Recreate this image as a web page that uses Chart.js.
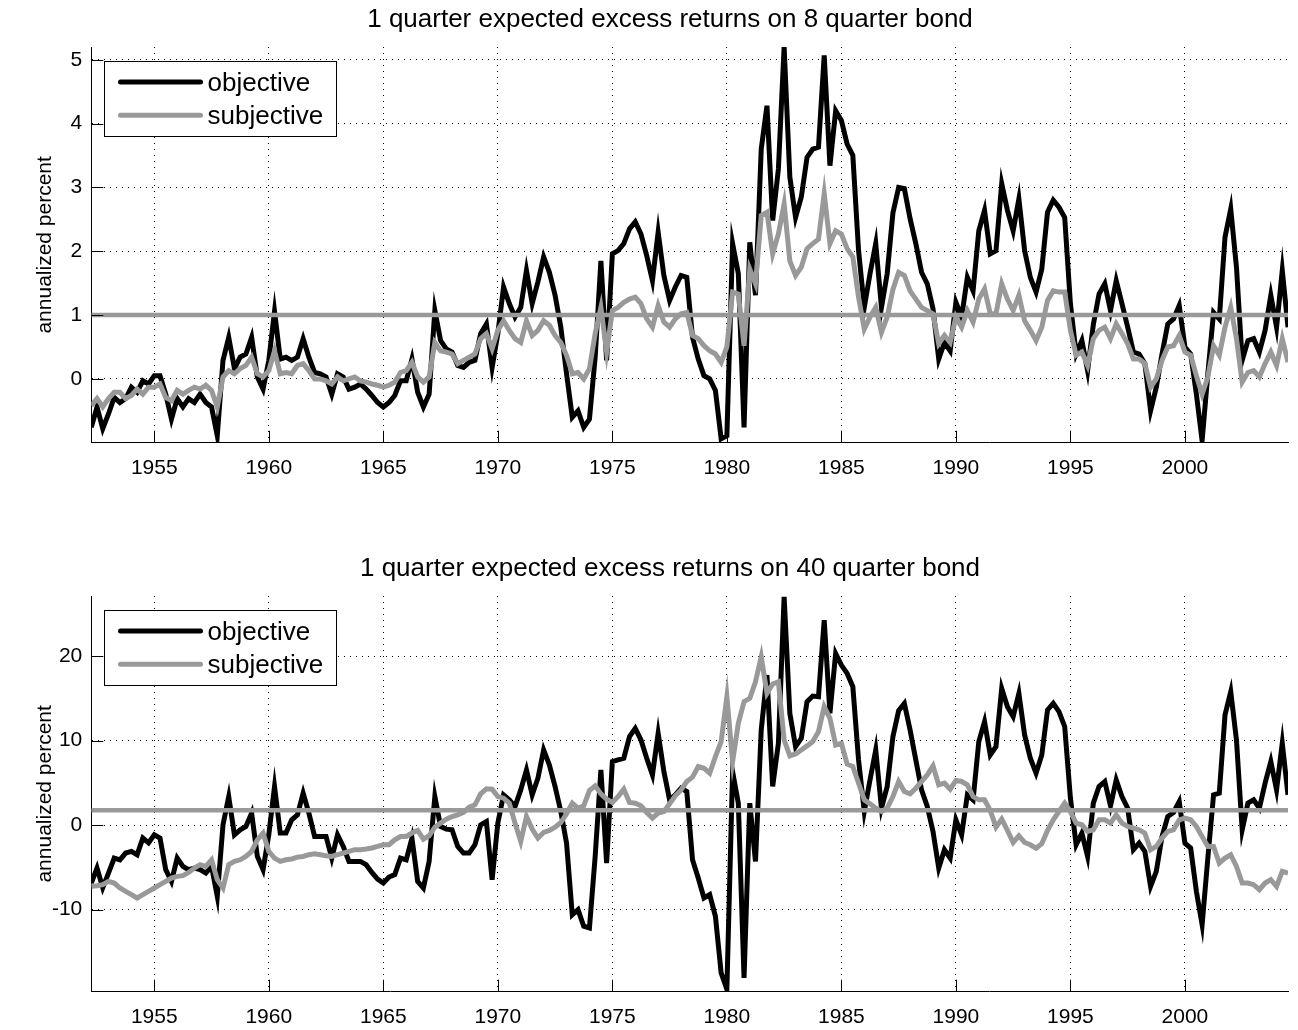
<!DOCTYPE html>
<html><head><meta charset="utf-8">
<script src="https://cdn.jsdelivr.net/npm/chart.js@4.4.1/dist/chart.umd.min.js"></script>
<style>
html,body{margin:0;padding:0;background:#fff;width:1298px;height:1030px;overflow:hidden}
.wrap{position:absolute;left:0;width:1298px}
#w1{top:0;height:549px}
#w2{top:549px;height:481px}
canvas{display:block}
</style></head><body>
<div class="wrap" id="w1"><canvas id="c1" width="1298" height="549"></canvas></div>
<div class="wrap" id="w2"><canvas id="c2" width="1298" height="481"></canvas></div>
<script>
// ---- data (quarterly, 1952.25 .. 2004.5) ----
const firstQuarter = 1952.25;
const lastQuarter = 2004.5;
const xTickYears = [1955, 1960, 1965, 1970, 1975, 1980, 1985, 1990, 1995, 2000];
const yTicks8 = [0, 1, 2, 3, 4, 5];
const yTicks40 = [-10, 0, 10, 20];
const title8 = '1 quarter expected excess returns on 8 quarter bond';
const title40 = '1 quarter expected excess returns on 40 quarter bond';
const seriesNames = ['objective', 'subjective'];
const level8 = 1.0;
const level40 = 1.75;

const objective8 = [
 -0.76,-0.44,-0.78,-0.55,-0.29,-0.37,-0.31,-0.13,-0.21,-0.03,
 -0.08, 0.05, 0.05,-0.24,-0.63,-0.31,-0.44,-0.31,-0.37,-0.24,
 -0.37,-0.44,-0.89, 0.29, 0.65, 0.16, 0.34, 0.39, 0.65, 0.03,
 -0.16, 0.29, 1.06, 0.31, 0.34, 0.29, 0.34, 0.63, 0.34, 0.10,
  0.08, 0.03,-0.24, 0.08, 0.03,-0.16,-0.13,-0.08,-0.16,-0.26,
 -0.37,-0.44,-0.37,-0.26,-0.03,-0.03, 0.31,-0.21,-0.44,-0.24,
  1.07, 0.60, 0.47, 0.42, 0.21, 0.18, 0.26, 0.29, 0.71, 0.86,
  0.18, 0.71, 1.44, 1.18, 0.97, 1.12, 1.70, 1.18, 1.52, 1.91,
  1.67, 1.31, 0.81, 0.08,-0.60,-0.50,-0.76,-0.63, 0.34, 1.85,
  0.29, 1.96, 2.01, 2.12, 2.35, 2.46, 2.27, 1.93, 1.54, 2.30,
  1.62, 1.23, 1.44, 1.62, 1.59, 0.65, 0.31, 0.05, 0.00,-0.18,
 -0.94,-0.89, 2.12, 1.65,-0.76, 2.14, 1.31, 3.60, 4.28, 2.48,
  3.29, 5.20, 3.16, 2.53, 2.85, 3.47, 3.60, 3.63, 5.07, 3.34,
  4.20, 4.05, 3.68, 3.50, 2.01, 1.12, 1.65, 2.12, 1.12, 1.65,
  2.60, 3.00, 2.98, 2.51, 2.12, 1.67, 1.49, 1.10, 0.31, 0.57,
  0.44, 1.20, 0.97, 1.59, 1.38, 2.32, 2.64, 1.96, 2.01, 3.06,
  2.64, 2.32, 2.82, 2.01, 1.59, 1.36, 1.72, 2.61, 2.80, 2.69,
  2.53, 1.18, 0.39, 0.60, 0.13, 0.85, 1.33, 1.49, 1.07, 1.54,
  1.18, 0.81, 0.42, 0.39, 0.24,-0.50,-0.13, 0.39, 0.86, 0.94,
  1.15, 0.50, 0.39,-0.24,-0.97, 0.08, 1.04, 0.94, 2.22, 2.66,
  1.75, 0.29, 0.60, 0.63, 0.42, 0.76, 1.31, 0.81, 1.70, 0.81
];
const subjective8 = [
 -0.42,-0.31,-0.44,-0.31,-0.21,-0.21,-0.31,-0.26,-0.16,-0.24,
 -0.13,-0.13,-0.08,-0.29,-0.34,-0.18,-0.24,-0.18,-0.13,-0.16,
 -0.10,-0.18,-0.44, 0.03, 0.13, 0.08, 0.16, 0.21, 0.34, 0.08,
  0.03, 0.13, 0.44, 0.08, 0.10, 0.08, 0.21, 0.24, 0.13, 0.00,
  0.00,-0.03,-0.08, 0.03,-0.03, 0.00, 0.03,-0.03,-0.05,-0.08,
 -0.10,-0.13,-0.10,-0.05, 0.10, 0.13, 0.26, 0.03,-0.05, 0.03,
  0.57, 0.44, 0.42, 0.39, 0.24, 0.29, 0.34, 0.39, 0.63, 0.71,
  0.47, 0.76, 0.91, 0.76, 0.63, 0.57, 0.91, 0.68, 0.76, 0.91,
  0.84, 0.68, 0.57, 0.37, 0.08, 0.10, 0.00, 0.16, 0.71, 1.12,
  0.42, 1.07, 1.12, 1.20, 1.25, 1.28, 1.18, 0.94, 0.81, 1.15,
  0.89, 0.81, 0.94, 1.02, 1.04, 0.68, 0.63, 0.52, 0.44, 0.39,
  0.26, 0.50, 1.36, 1.33, 0.52, 1.72, 1.49, 2.56, 2.61, 1.96,
  2.27, 2.74, 1.85, 1.62, 1.75, 2.04, 2.12, 2.19, 2.90, 2.12,
  2.32, 2.27, 2.04, 1.91, 1.28, 0.78, 0.97, 1.12, 0.73, 0.97,
  1.40, 1.67, 1.62, 1.38, 1.25, 1.12, 1.07, 1.02, 0.55, 0.68,
  0.57, 0.97, 0.81, 1.07, 0.89, 1.25, 1.41, 1.02, 1.02, 1.49,
  1.25, 1.07, 1.31, 0.91, 0.76, 0.60, 0.81, 1.23, 1.38, 1.36,
  1.36, 0.76, 0.37, 0.42, 0.21, 0.63, 0.76, 0.81, 0.63, 0.86,
  0.71, 0.55, 0.31, 0.31, 0.24,-0.13, 0.00, 0.29, 0.50, 0.52,
  0.68, 0.42, 0.37, 0.05,-0.24, 0.03, 0.52, 0.37, 0.81, 1.12,
  0.63,-0.05, 0.10, 0.13, 0.03, 0.24, 0.42, 0.21, 0.63, 0.26
];
const objective40 = [
 -6.85,-5.08,-7.40,-5.67,-3.90,-4.10,-3.30,-3.10,-3.50,-1.53,
 -2.10,-1.14,-1.53,-5.27,-6.65,-3.90,-4.88,-5.27,-5.08,-5.27,
 -5.67,-4.88,-8.42, 0.04, 3.38,-1.14,-0.55,-0.16, 1.42,-3.70,
 -5.27,-1.14, 4.57,-0.94,-0.94, 0.63, 1.22, 3.78, 1.42,-1.34,
 -1.34,-1.34,-3.90,-1.14,-2.52,-4.29,-4.29,-4.29,-4.68,-5.59,
 -6.38,-6.85,-6.14,-5.86,-3.90,-4.10,-1.53,-6.65,-7.44,-4.29,
  3.38,-0.16,-0.47,-0.55,-2.52,-3.31,-3.31,-2.32, 0.04, 0.43,
 -6.45, 0.24, 3.58, 2.99, 2.20, 4.17, 6.53, 3.58, 5.55, 8.89,
  7.12, 4.57, 1.61,-2.13,-10.60,-10.00,-11.96,-12.16,-3.70, 6.53,
 -4.49, 7.52, 7.71, 7.91,10.47,11.45,10.07, 7.91, 5.94,10.86,
  6.34, 2.99, 3.58, 4.37, 3.97,-4.10,-6.26,-8.62,-8.22,-10.78,
 -17.47,-19.40, 6.34, 2.60,-18.06, 2.60,-4.29,11.26,17.75, 4.57,
  9.68,27.00,13.22, 9.29,10.27,14.60,15.27,15.19,24.24,13.22,
 20.30,18.93,17.95,16.37, 7.71, 1.61, 5.35, 8.89, 2.00, 4.57,
 10.47,13.54,14.40,11.26, 7.71, 4.17, 2.20,-0.75,-5.08,-2.91,
 -3.90, 0.63,-1.14, 3.58, 2.99, 9.88,12.24, 8.30, 9.29,16.17,
 14.01,12.83,15.58,10.67, 7.91, 6.14, 8.30,13.62,14.40,13.42,
 11.65, 3.19,-2.32,-0.94,-3.70, 2.60, 4.57, 5.16, 2.28, 5.35,
  3.38, 2.00,-2.91,-2.13,-3.11,-7.24,-5.47,-1.34, 1.02, 1.50,
  2.79,-2.13,-2.72,-7.83,-11.77,-3.90, 3.58, 3.78,13.03,15.78,
 10.07,-0.55, 2.60, 2.99, 2.00, 4.96, 7.52, 4.17, 9.68, 3.58
];
const subjective40 = [
 -7.24,-7.16,-7.04,-6.65,-6.85,-7.44,-7.83,-8.22,-8.62,-8.22,
 -7.83,-7.44,-7.04,-6.65,-6.26,-6.06,-5.98,-5.59,-5.08,-4.68,
 -4.88,-4.10,-6.45,-7.44,-4.68,-4.29,-4.10,-3.70,-3.11,-1.73,
 -0.94,-3.11,-3.90,-4.29,-4.10,-4.00,-3.78,-3.70,-3.50,-3.38,
 -3.50,-3.62,-3.70,-3.50,-3.30,-3.10,-2.90,-2.90,-2.83,-2.70,
 -2.52,-2.32,-2.32,-1.73,-1.34,-1.34,-0.94,-0.63,-1.65,-1.26,
 -0.24, 0.24, 0.71, 1.02, 1.22, 1.50, 2.12, 2.40, 3.70, 4.29,
  4.25, 3.38, 3.19, 2.60, 0.24,-1.93, 1.02,-0.47,-1.53,-0.87,
 -0.63,-0.24, 0.31, 1.34, 2.60, 2.00, 2.28, 4.09, 4.64, 3.70,
  3.07, 2.68, 3.38, 4.25, 2.68, 2.60, 2.28, 1.50, 0.83, 1.42,
  1.61, 2.52, 3.46, 4.17, 5.16, 5.67, 6.93, 6.73, 6.14, 8.10,
  9.88,15.19, 7.52,12.04,14.60,14.99,16.96,19.91,15.58,16.69,
 16.96,10.07, 8.19, 8.42, 8.89, 9.37, 9.88,11.06,14.01,12.63,
  9.48, 9.68, 7.24, 6.93, 4.96, 2.99, 2.52, 2.00, 1.61, 2.00,
  3.38, 5.16, 3.97, 3.70, 4.37, 5.16, 5.94, 7.00, 4.76, 4.96,
  4.25, 5.27, 5.16, 4.76, 3.38, 2.99, 2.99, 1.73,-0.24, 0.71,
 -0.63,-2.05,-1.26,-2.05,-2.32,-2.72,-2.20,-0.63, 0.63, 1.61,
  2.60, 1.61, 0.24, 0.04,-0.75,-0.55, 0.63, 0.63, 0.24, 1.22,
  0.24,-0.16,-0.35,-0.55,-0.94,-2.91,-2.52,-1.53,-0.75,-0.55,
  0.63, 0.83, 0.63,-0.16,-1.34,-2.52,-2.52,-4.49,-3.90,-3.50,
 -4.88,-6.85,-6.85,-7.04,-7.63,-6.85,-6.45,-7.24,-5.47,-5.67
];
const quarters = objective8.map((_, i) => firstQuarter + i / 4);

// ---- styling ----
const FONT = "'Liberation Sans', Arial, Helvetica, sans-serif";
const FS = 21;      // tick / axis-title size
const FS_BIG = 26;  // title / legend size

const insideTicks = {
  id: 'insideTicks',
  afterDatasetsDraw(chart) {
    const {ctx, chartArea: a, scales} = chart;
    ctx.save();
    ctx.strokeStyle = '#000'; ctx.lineWidth = 1;
    ctx.beginPath();
    scales.x.ticks.forEach(t => {
      const px = Math.round(scales.x.getPixelForValue(t.value)) + 0.5;
      ctx.moveTo(px, a.bottom); ctx.lineTo(px, a.bottom - 12);
    });
    scales.y.ticks.forEach(t => {
      const py = Math.round(scales.y.getPixelForValue(t.value)) + 0.5;
      ctx.moveTo(a.left, py); ctx.lineTo(a.left + 12, py);
    });
    ctx.stroke();
    ctx.restore();
  }
};

const boxLegend = {
  id: 'boxLegend',
  afterDraw(chart) {
    const {ctx, chartArea: a} = chart;
    const x0 = Math.round(a.left + 13) + 0.5, y0 = Math.round(a.top + 14) + 0.5, w = 232, h = 75;
    ctx.save();
    ctx.fillStyle = '#fff'; ctx.fillRect(x0, y0, w, h);
    ctx.strokeStyle = '#000'; ctx.lineWidth = 1; ctx.strokeRect(x0, y0, w, h);
    [0, 1].forEach((di, k) => {
      const ds = chart.data.datasets[di];
      const ly = y0 + 20.5 + k * 33.3;
      ctx.strokeStyle = ds.borderColor; ctx.lineWidth = ds.borderWidth; ctx.lineCap = 'round';
      ctx.beginPath(); ctx.moveTo(x0 + 16, ly); ctx.lineTo(x0 + 96, ly); ctx.stroke();
      ctx.fillStyle = '#000'; ctx.font = FS_BIG + 'px ' + FONT; ctx.textBaseline = 'middle'; ctx.textAlign = 'left';
      ctx.fillText(ds.label, x0 + 103, ly + 1.5);
    });
    ctx.restore();
  }
};

// title centred at a fixed page position (as in the reference)
const plotTitle = {
  id: 'plotTitle',
  afterDraw(chart, args, opts) {
    const {ctx} = chart;
    ctx.save();
    ctx.fillStyle = '#000'; ctx.font = FS_BIG + 'px ' + FONT;
    ctx.textAlign = 'center'; ctx.textBaseline = 'middle';
    ctx.fillText(opts.text, opts.x, opts.y);
    ctx.restore();
  }
};

function makeChart(id, title, obj, sub, level, yMin, yMax, yTicks, padBottom) {
  const toXY = arr => arr.map((v, i) => ({x: quarters[i], y: v}));
  const gridCfg = {color: '#000', lineWidth: 1, drawTicks: false};
  const borderCfg = {display: true, color: '#000', width: 1, dash: [1, 5]};
  return new Chart(document.getElementById(id), {
    type: 'line',
    data: {
      datasets: [
        {label: seriesNames[0], data: toXY(obj), borderColor: '#000000', borderWidth: 5, pointRadius: 0, tension: 0, order: 3},
        {label: seriesNames[1], data: toXY(sub), borderColor: '#999999', borderWidth: 5, pointRadius: 0, tension: 0, order: 2},
        {label: 'level', data: [{x: firstQuarter, y: level}, {x: lastQuarter, y: level}], borderColor: '#999999', borderWidth: 4.5, pointRadius: 0, order: 1}
      ]
    },
    options: {
      responsive: false,
      animation: false,
      devicePixelRatio: 1,
      layout: {padding: {left: 0, right: 10, top: 47, bottom: padBottom}},
      plugins: {
        legend: {display: false},
        tooltip: {enabled: false},
        title: {display: false},
        plotTitle: {text: title, x: 670, y: 19.5}
      },
      scales: {
        x: {
          type: 'linear', min: firstQuarter, max: lastQuarter,
          afterBuildTicks: s => { s.ticks = xTickYears.map(v => ({value: v})); },
          afterFit: s => { s.height = 38; },
          grid: gridCfg, border: borderCfg,
          ticks: {color: '#000', font: {family: FONT, size: FS}, padding: 13, maxRotation: 0, autoSkip: false, callback: v => String(v)}
        },
        y: {
          min: yMin, max: yMax,
          afterBuildTicks: s => { s.ticks = yTicks.map(v => ({value: v})); },
          afterFit: s => { s.width = 91.3; },
          grid: gridCfg, border: borderCfg,
          ticks: {color: '#000', font: {family: FONT, size: FS}, padding: 9, callback: v => String(v)},
          title: {display: true, text: 'annualized percent', color: '#000', font: {family: FONT, size: FS}, padding: {top: 33, bottom: 0}}
        }
      }
    },
    plugins: [insideTicks, boxLegend, plotTitle]
  });
}

makeChart('c1', title8, objective8, subjective8, level8, -1.0, 5.2, yTicks8, 549 - 442.7 - 38);
makeChart('c2', title40, objective40, subjective40, level40, -19.7, 27.1, yTicks40, 481 - 442.7 - 38);
</script>
</body></html>
